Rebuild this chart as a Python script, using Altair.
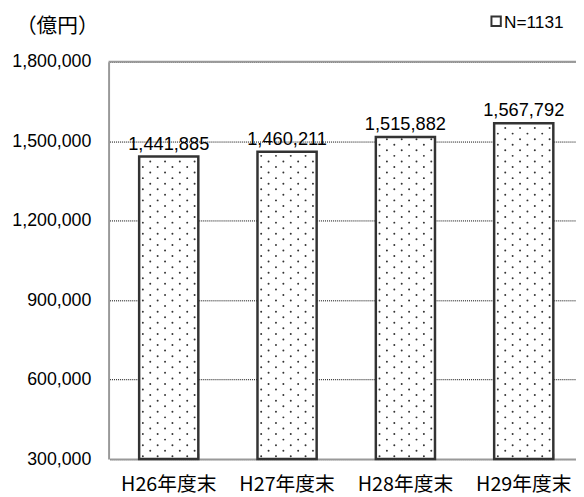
import altair as alt
import pandas as pd

categories = ["H26年度末", "H27年度末", "H28年度末", "H29年度末"]
values = [1441885, 1460211, 1515882, 1567792]
y_ticks = [300000, 600000, 900000, 1200000, 1500000, 1800000]
unit_label = "（億円）"
legend_label = "N=1131"

df = pd.DataFrame({"cat": categories, "value": values})
base_value = y_ticks[0]

# dotted fill texture (decoration only) derived from the bar values
step = 21000
ncol = 8
tex = []
for i, v in enumerate(values):
    r = 0
    while base_value + (r + 0.5) * step < v - step * 0.3:
        for k in range(ncol):
            if (k + r) % 2 == 0:
                tex.append({"xp": i + 0.25 + (k + 0.5) * 0.5 / ncol,
                            "value": base_value + (r + 0.5) * step})
        r += 1
dots = pd.DataFrame(tex)
one = pd.DataFrame({"t": [0]})

W, H = 474, 403
xscale = alt.Scale(domain=categories, range=[1, 481], paddingInner=0.5, paddingOuter=0.25)
xq = alt.Scale(domain=[0, len(categories)], range=[1, 481], nice=False, zero=False)
yscale = alt.Scale(domain=[y_ticks[0], y_ticks[-1]], nice=False, zero=False)

main_x_axis = alt.Axis(
    title=None, labelAngle=0, ticks=False, domainColor="#999999", domainWidth=2,
    labelFont="Noto Sans CJK JP", labelFontSize=20, labelColor="#000000",
    labelPadding=26, labelBaseline="middle", orient="bottom",
)
tick_x_axis = alt.Axis(
    title=None, labels=False, domain=False, ticks=True, tickBand="extent",
    tickSize=6, tickColor="#999999", tickWidth=1, offset=-6, grid=False, orient="bottom",
)
y_axis = alt.Axis(
    title=None, values=y_ticks, format=",.0f", ticks=False, domainColor="#999999",
    domainWidth=2, labelFont="Liberation Sans", labelFontSize=18, labelColor="#000000",
    labelPadding=18, grid=True, gridColor="#000000", gridDash=[1, 1], gridWidth=1,
)

bars = alt.Chart(df).mark_bar(fill="white", stroke="#333333", strokeWidth=2.5).encode(
    x=alt.X("cat:N", scale=xscale, sort=categories, axis=main_x_axis),
    y=alt.Y("value:Q", scale=yscale, axis=y_axis),
    y2=alt.datum(base_value),
)

labels = alt.Chart(df).mark_text(
    baseline="alphabetic", dy=-7, fontSize=18.5, font="Liberation Sans", color="#000000"
).encode(
    x=alt.X("cat:N", scale=xscale, sort=categories, axis=tick_x_axis),
    y=alt.Y("value:Q", scale=yscale, axis=y_axis),
    text=alt.Text("value:Q", format=",.0f"),
)

dot_layer = alt.Chart(dots).mark_circle(size=4, color="#333333", opacity=1).encode(
    x=alt.X("xp:Q", scale=xq, axis=None),
    y=alt.Y("value:Q", scale=yscale, axis=y_axis),
)

top_rule = alt.Chart(one).mark_rule(color="#999999", strokeWidth=2).encode(
    x=alt.value(0), x2=alt.value(480), y=alt.value(0)
)

unit_text = alt.Chart(one).mark_text(
    text=unit_label, font="Noto Sans CJK JP", fontSize=21, baseline="middle", align="center", color="#000000"
).encode(x=alt.value(-52), y=alt.value(-35))

legend_sq = alt.Chart(one).mark_square(size=90, fill="white", stroke="#333333", strokeWidth=2, opacity=1).encode(
    x=alt.value(393), y=alt.value(-41)
)
legend_text = alt.Chart(one).mark_text(
    text=legend_label, font="Liberation Sans", fontSize=17.5, baseline="middle", align="left", color="#000000"
).encode(x=alt.value(401), y=alt.value(-39))

chart = alt.layer(
    bars, labels, dot_layer, top_rule, unit_text, legend_sq, legend_text
).resolve_scale(x="independent").resolve_axis(x="independent").properties(
    width=W, height=H,
    autosize=alt.AutoSizeParams(type="none"),
    padding={"left": 102, "top": 51, "right": 0, "bottom": 35},
    background="white",
).configure_view(stroke=None)

chart.save("out.html", embed_options={"renderer": "svg", "actions": False})
